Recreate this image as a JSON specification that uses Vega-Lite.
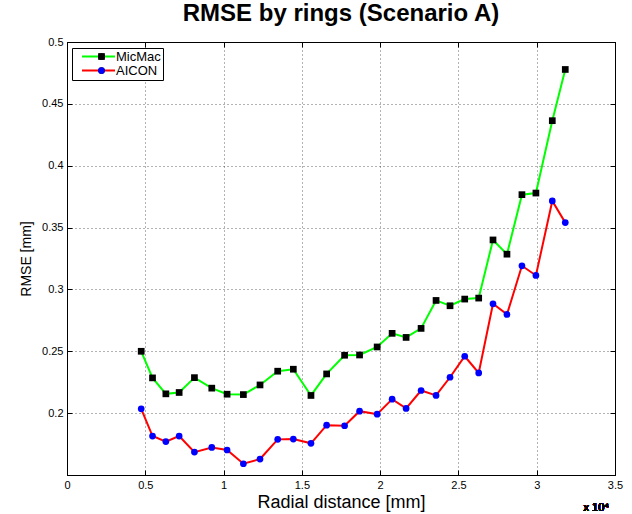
{
  "$schema": "https://vega.github.io/schema/vega-lite/v6.json",
  "width": 548,
  "height": 433,
  "autosize": "none",
  "padding": {"left": 67, "top": 42, "right": 17, "bottom": 39},
  "background": "white",
  "title": {
    "text": "RMSE by rings (Scenario A)",
    "font": "Liberation Sans",
    "fontSize": 24,
    "fontWeight": "bold",
    "color": "black",
    "anchor": "middle",
    "baseline": "alphabetic",
    "offset": -9
  },
  "data": {
    "values": [
      {"r": 4739, "rmse": 0.25, "method": "MicMac"},
      {"r": 5462, "rmse": 0.2285, "method": "MicMac"},
      {"r": 6314, "rmse": 0.2156, "method": "MicMac"},
      {"r": 7163, "rmse": 0.2167, "method": "MicMac"},
      {"r": 8139, "rmse": 0.2287, "method": "MicMac"},
      {"r": 9247, "rmse": 0.2202, "method": "MicMac"},
      {"r": 10225, "rmse": 0.2153, "method": "MicMac"},
      {"r": 11265, "rmse": 0.215, "method": "MicMac"},
      {"r": 12328, "rmse": 0.2228, "method": "MicMac"},
      {"r": 13457, "rmse": 0.2339, "method": "MicMac"},
      {"r": 14455, "rmse": 0.2355, "method": "MicMac"},
      {"r": 15582, "rmse": 0.2143, "method": "MicMac"},
      {"r": 16582, "rmse": 0.2317, "method": "MicMac"},
      {"r": 17730, "rmse": 0.2468, "method": "MicMac"},
      {"r": 18686, "rmse": 0.247, "method": "MicMac"},
      {"r": 19809, "rmse": 0.2535, "method": "MicMac"},
      {"r": 20765, "rmse": 0.2645, "method": "MicMac"},
      {"r": 21658, "rmse": 0.2612, "method": "MicMac"},
      {"r": 22615, "rmse": 0.2685, "method": "MicMac"},
      {"r": 23571, "rmse": 0.2911, "method": "MicMac"},
      {"r": 24464, "rmse": 0.2868, "method": "MicMac"},
      {"r": 25402, "rmse": 0.2922, "method": "MicMac"},
      {"r": 26295, "rmse": 0.293, "method": "MicMac"},
      {"r": 27208, "rmse": 0.34, "method": "MicMac"},
      {"r": 28100, "rmse": 0.3285, "method": "MicMac"},
      {"r": 29056, "rmse": 0.3766, "method": "MicMac"},
      {"r": 29949, "rmse": 0.3779, "method": "MicMac"},
      {"r": 30995, "rmse": 0.4364, "method": "MicMac"},
      {"r": 31824, "rmse": 0.4778, "method": "MicMac"},
      {"r": 4739, "rmse": 0.2035, "method": "AICON"},
      {"r": 5462, "rmse": 0.1815, "method": "AICON"},
      {"r": 6314, "rmse": 0.177, "method": "AICON"},
      {"r": 7163, "rmse": 0.1815, "method": "AICON"},
      {"r": 8139, "rmse": 0.1685, "method": "AICON"},
      {"r": 9247, "rmse": 0.1723, "method": "AICON"},
      {"r": 10225, "rmse": 0.1702, "method": "AICON"},
      {"r": 11265, "rmse": 0.1591, "method": "AICON"},
      {"r": 12328, "rmse": 0.1629, "method": "AICON"},
      {"r": 13457, "rmse": 0.1788, "method": "AICON"},
      {"r": 14455, "rmse": 0.179, "method": "AICON"},
      {"r": 15582, "rmse": 0.1756, "method": "AICON"},
      {"r": 16582, "rmse": 0.1903, "method": "AICON"},
      {"r": 17730, "rmse": 0.1898, "method": "AICON"},
      {"r": 18686, "rmse": 0.2016, "method": "AICON"},
      {"r": 19809, "rmse": 0.1992, "method": "AICON"},
      {"r": 20765, "rmse": 0.2113, "method": "AICON"},
      {"r": 21658, "rmse": 0.2038, "method": "AICON"},
      {"r": 22615, "rmse": 0.2183, "method": "AICON"},
      {"r": 23571, "rmse": 0.2143, "method": "AICON"},
      {"r": 24464, "rmse": 0.229, "method": "AICON"},
      {"r": 25402, "rmse": 0.246, "method": "AICON"},
      {"r": 26295, "rmse": 0.2325, "method": "AICON"},
      {"r": 27208, "rmse": 0.2884, "method": "AICON"},
      {"r": 28100, "rmse": 0.2798, "method": "AICON"},
      {"r": 29056, "rmse": 0.3191, "method": "AICON"},
      {"r": 29949, "rmse": 0.3113, "method": "AICON"},
      {"r": 30995, "rmse": 0.3715, "method": "AICON"},
      {"r": 31824, "rmse": 0.354, "method": "AICON"}
    ]
  },
  "layer": [
    {
      "mark": {"type": "line", "strokeWidth": 2},
      "encoding": {
        "x": {
          "field": "r", "type": "quantitative",
          "scale": {"domain": [0, 35000], "nice": false, "zero": false},
          "axis": {
            "orient": "bottom",
            "title": "Radial distance [mm]",
            "values": [0, 5000, 10000, 15000, 20000, 25000, 30000, 35000],
            "labelExpr": "'' + (datum.value / 10000)",
            "grid": true,
            "titlePadding": 3
          }
        },
        "y": {
          "field": "rmse", "type": "quantitative",
          "scale": {"domain": [0.15, 0.5], "nice": false, "zero": false},
          "axis": {
            "orient": "left",
            "title": "RMSE [mm]",
            "titleFontSize": 14,
            "values": [0.2, 0.25, 0.3, 0.35, 0.4, 0.45, 0.5],
            "labelExpr": "'' + datum.value",
            "grid": true,
            "titlePadding": 8
          }
        },
        "stroke": {
          "field": "method", "type": "nominal",
          "scale": {"domain": ["MicMac", "AICON"], "range": ["#00ff00", "#ff0000"]},
          "legend": {
            "title": null,
            "orient": "none",
            "legendX": 5,
            "legendY": 6,
            "padding": 2,
            "fillColor": "white",
            "strokeColor": "black",
            "symbolType": "M-3,0H3",
            "symbolSize": 121,
            "symbolStrokeWidth": 2,
            "symbolOffset": 18,
            "labelFont": "Liberation Sans",
            "labelFontSize": 13,
            "labelColor": "black",
            "labelOffset": 11,
            "rowPadding": 0
          }
        }
      }
    },
    {
      "mark": {"type": "point", "filled": true, "size": 45, "opacity": 1},
      "encoding": {
        "x": {
          "field": "r", "type": "quantitative",
          "axis": {"orient": "top", "title": null, "labels": false, "grid": false, "minExtent": 0,
                   "values": [0, 5000, 10000, 15000, 20000, 25000, 30000, 35000]}
        },
        "y": {
          "field": "rmse", "type": "quantitative",
          "axis": {"orient": "right", "title": null, "labels": false, "grid": false, "minExtent": 0,
                   "values": [0.2, 0.25, 0.3, 0.35, 0.4, 0.45, 0.5]}
        },
        "fill": {
          "field": "method", "type": "nominal",
          "sort": ["MicMac", "AICON"],
          "scale": {"range": ["#000000", "#0000ff"]},
          "legend": {
            "title": null,
            "orient": "none",
            "legendX": 5,
            "legendY": 6,
            "padding": 2,
            "symbolSize": 45,
            "symbolStrokeWidth": 0,
            "symbolOffset": 21,
            "labelFont": "Liberation Sans",
            "labelFontSize": 13,
            "labelExpr": "''",
            "labelOffset": 30,
            "rowPadding": 0
          }
        },
        "shape": {
          "field": "method", "type": "nominal",
          "sort": ["MicMac", "AICON"],
          "scale": {"range": ["square", "circle"]},
          "legend": {
            "title": null,
            "orient": "none",
            "legendX": 5,
            "legendY": 6,
            "padding": 2,
            "symbolSize": 45,
            "symbolStrokeWidth": 0,
            "symbolOffset": 21,
            "labelFont": "Liberation Sans",
            "labelFontSize": 13,
            "labelExpr": "''",
            "labelOffset": 30,
            "rowPadding": 0
          }
        }
      }
    },
    {
      "mark": {"type": "text", "text": "x 10⁴", "align": "right", "baseline": "middle", "dy": 33, "dx": -6, "fontSize": 11, "font": "Liberation Sans", "color": "black"},
      "encoding": {
        "x": {"datum": 35000, "type": "quantitative", "axis": null},
        "y": {"datum": 0.15, "type": "quantitative", "axis": null}
      }
    }
  ],
  "resolve": {"axis": {"x": "independent", "y": "independent"}},
  "config": {
    "font": "Liberation Sans",
    "view": {"stroke": "black", "strokeWidth": 1},
    "axis": {
      "labelFont": "Liberation Sans",
      "labelFontSize": 11,
      "labelColor": "black",
      "titleFont": "Liberation Sans",
      "titleFontSize": 18,
      "titleFontWeight": "normal",
      "titleColor": "black",
      "domainColor": "black",
      "tickColor": "black",
      "tickSize": -5,
      "labelPadding": 9,
      "gridColor": "black",
      "gridOpacity": 0.6,
      "gridDash": [1, 3],
      "labelFlush": false,
      "labelOverlap": false
    }
  }
}
